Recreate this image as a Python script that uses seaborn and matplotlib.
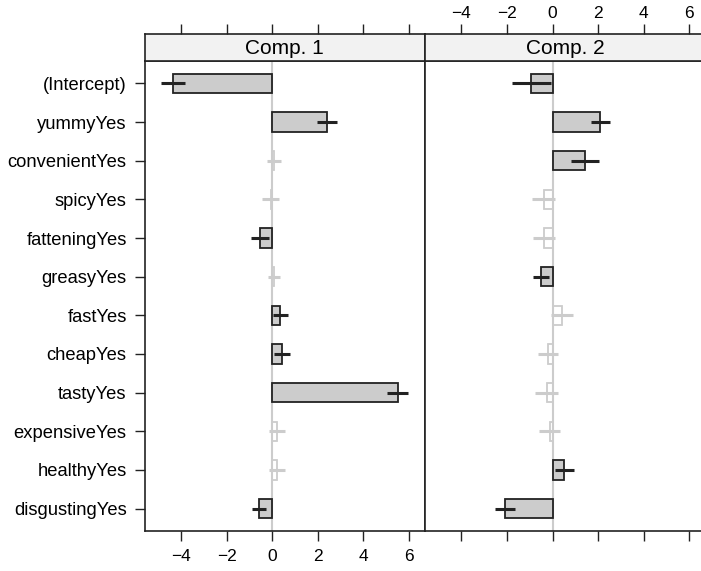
import numpy as np
import seaborn as sns
import matplotlib.pyplot as plt

# coefficient names (top to bottom)
terms = ["(Intercept)", "yummyYes", "convenientYes", "spicyYes", "fatteningYes",
         "greasyYes", "fastYes", "cheapYes", "tastyYes", "expensiveYes",
         "healthyYes", "disgustingYes"]
comp_names = ["Comp. 1", "Comp. 2"]

# estimates and half widths of the confidence intervals
coef_comp1 = [-4.36, 2.40, 0.08, -0.07, -0.55, 0.07, 0.36, 0.44, 5.50, 0.22, 0.20, -0.57]
ci_comp1 = [0.52, 0.43, 0.32, 0.38, 0.40, 0.26, 0.34, 0.35, 0.47, 0.34, 0.34, 0.32]
coef_comp2 = [-0.93, 2.10, 1.42, -0.38, -0.37, -0.50, 0.41, -0.18, -0.26, -0.13, 0.52, -2.09]
ci_comp2 = [0.85, 0.41, 0.62, 0.50, 0.47, 0.34, 0.49, 0.44, 0.49, 0.45, 0.41, 0.45]

x_ticks = [-4, -2, 0, 2, 4, 6]

sns.set_theme(style="white")
plt.rcParams["font.family"] = ["Liberation Sans", "DejaVu Sans"]

DARK = "#222222"
LIGHT = "#cccccc"
FILL = "#cccccc"
XLIM = (-5.59, 6.70)

fig = plt.figure(figsize=(7.01, 5.71), dpi=100)

lefts = [0.2064, 0.6063]
w = 0.3999
body_b, body_h = 0.0701, 0.8231
strip_b, strip_h = 0.8932, 0.0473

data = [(coef_comp1, ci_comp1), (coef_comp2, ci_comp2)]
tick_text = [f"\u2212{abs(t)}" if t < 0 else str(t) for t in x_ticks]

for i, (coef, ci) in enumerate(data):
    coef = np.array(coef)
    ci = np.array(ci)
    sig = np.abs(coef) > ci

    ax = fig.add_axes([lefts[i], body_b, w, body_h])
    ax.axvline(0, color=LIGHT, lw=1.5, zorder=0)
    sns.barplot(x=coef, y=terms, orient="h", width=0.5, ax=ax,
                color=FILL, saturation=1, zorder=2)
    for p, s in zip(ax.patches, sig):
        if s:
            p.set_facecolor(FILL)
            p.set_edgecolor(DARK)
        else:
            p.set_facecolor("none")
            p.set_edgecolor(LIGHT)
        p.set_linewidth(1.3)
    pos = np.arange(len(terms))
    ax.hlines(pos, coef - ci, coef + ci, colors=[DARK if s else LIGHT for s in sig],
              lw=2.2, zorder=3)

    ax.set_xlim(XLIM)
    ax.set_ylim(len(terms) - 0.42, -0.58)
    ax.set_xlabel("")
    ax.set_ylabel("")
    ax.set_xticks(x_ticks)
    for sp in ax.spines.values():
        sp.set_color(DARK)
        sp.set_linewidth(1.2)
        sp.set_visible(True)
    ax.tick_params(axis="x", direction="out", length=7.2, width=1, color=DARK,
                   labelsize=12.5, pad=6, labelcolor="black", bottom=True)
    if i == 0:
        ax.set_xticklabels(tick_text)
        ax.tick_params(axis="y", direction="out", length=7.2, width=1, color=DARK,
                       labelsize=13.2, pad=5.8, labelcolor="black", left=True)
    else:
        ax.tick_params(axis="y", left=False, labelleft=False)
        ax.tick_params(axis="x", labelbottom=False)

    # strip on top
    st = fig.add_axes([lefts[i], strip_b, w, strip_h])
    st.set_facecolor("#f2f2f2")
    st.set_xlim(XLIM)
    st.set_ylim(0, 1)
    st.set_yticks([])
    st.set_xticks(x_ticks)
    st.xaxis.tick_top()
    st.tick_params(axis="x", direction="out", length=7.2, width=1, color=DARK,
                   labelsize=12.5, pad=2.5, labelcolor="black", top=True, bottom=False)
    if i == 1:
        st.set_xticklabels(tick_text)
    else:
        st.tick_params(axis="x", labeltop=False)
    for sp in st.spines.values():
        sp.set_color(DARK)
        sp.set_linewidth(1.2)
        sp.set_visible(True)
    st.text(0.5, 0.48, comp_names[i], transform=st.transAxes, ha="center",
            va="center", fontsize=15, color="black")

fig.savefig("out.png", dpi=100)
